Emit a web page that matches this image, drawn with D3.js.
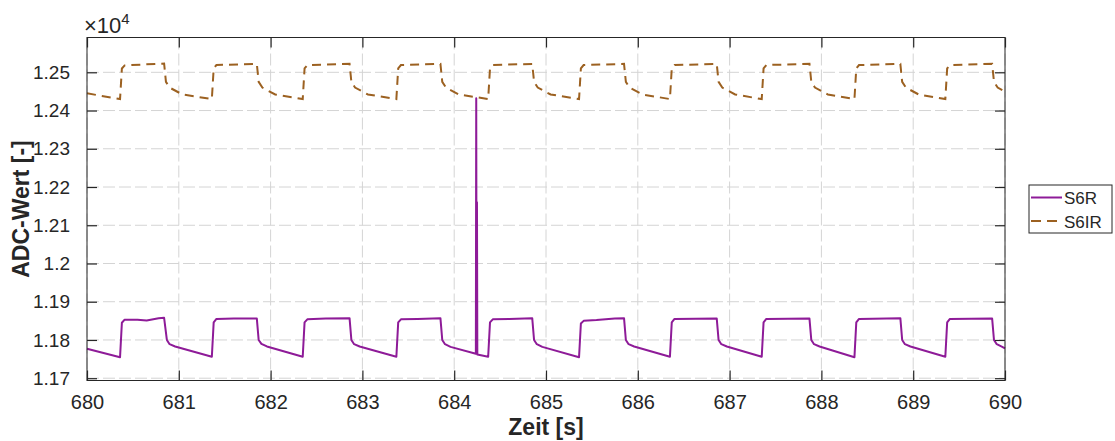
<!DOCTYPE html>
<html>
<head>
<meta charset="utf-8">
<script src="https://cdn.jsdelivr.net/npm/d3@7/dist/d3.min.js"></script>
<style>
  body { margin: 0; background: #fff; }
  svg { font-family: "Liberation Sans", Arial, Helvetica, sans-serif; }
</style>
</head>
<body>
<script>
// Ticks
var xTicks = [680, 681, 682, 683, 684, 685, 686, 687, 688, 689, 690];
var yTicks = [11700, 11800, 11900, 12000, 12100, 12200, 12300, 12400, 12500];
var yTickLabels = ["1.17", "1.18", "1.19", "1.2", "1.21", "1.22", "1.23", "1.24", "1.25"];
var seriesNames = ["S6R", "S6IR"];

// S6R [zeit, ADC]
var s6r = [
  [680.00,11777],[680.36,11755],
  [680.38,11845],[680.41,11853],[680.55,11853],[680.65,11851],[680.78,11857],[680.84,11858],
  [680.87,11800],[680.90,11789],[680.96,11783],[681.36,11756],
  [681.38,11846],[681.41,11855],[681.60,11856],[681.85,11856],
  [681.87,11800],[681.90,11790],[681.96,11783],[682.35,11756],
  [682.37,11846],[682.40,11854],[682.60,11856],[682.86,11857],
  [682.88,11800],[682.91,11789],[682.97,11783],[683.37,11756],
  [683.39,11846],[683.42,11854],[683.60,11855],[683.85,11857],
  [683.87,11800],[683.90,11789],[683.96,11782],[684.236,11764],
  [684.240,12432],[684.244,11770],[684.248,12160],[684.252,11762],[684.37,11756],
  [684.39,11846],[684.42,11854],[684.60,11855],[684.85,11857],
  [684.87,11800],[684.90,11789],[684.96,11782],[685.36,11755],
  [685.38,11843],[685.41,11850],[685.55,11852],[685.75,11856],[685.85,11857],
  [685.87,11800],[685.90,11789],[685.96,11783],[686.35,11756],
  [686.37,11846],[686.40,11855],[686.86,11856],
  [686.88,11800],[686.91,11789],[686.97,11783],[687.35,11756],
  [687.37,11846],[687.40,11855],[687.87,11856],
  [687.89,11800],[687.92,11789],[687.98,11783],[688.36,11755],
  [688.38,11846],[688.41,11855],[688.86,11857],
  [688.88,11800],[688.91,11789],[688.97,11783],[689.35,11756],
  [689.37,11846],[689.40,11855],[689.86,11856],
  [689.88,11800],[689.91,11789],[689.97,11782],[690.00,11778]
];

// S6IR [zeit, ADC]
var s6ir = [
  [680.00,12445],[680.36,12430],
  [680.38,12510],[680.41,12518],[680.84,12523],
  [680.86,12475],[680.90,12460],[681.04,12442],[681.36,12430],
  [681.38,12510],[681.41,12519],[681.85,12522],
  [681.87,12475],[681.91,12460],[682.05,12442],[682.35,12430],
  [682.37,12510],[682.40,12519],[682.86,12522],
  [682.88,12475],[682.92,12460],[683.06,12442],[683.37,12430],
  [683.39,12510],[683.42,12519],[683.85,12522],
  [683.87,12475],[683.91,12460],[684.05,12442],[684.37,12430],
  [684.39,12510],[684.42,12519],[684.85,12522],
  [684.87,12475],[684.91,12460],[685.05,12442],[685.36,12430],
  [685.38,12510],[685.41,12519],[685.85,12522],
  [685.87,12475],[685.91,12460],[686.05,12442],[686.35,12430],
  [686.37,12510],[686.40,12519],[686.86,12522],
  [686.88,12475],[686.92,12460],[687.06,12442],[687.35,12430],
  [687.37,12510],[687.40,12519],[687.87,12522],
  [687.89,12475],[687.93,12460],[688.07,12442],[688.36,12430],
  [688.38,12510],[688.41,12519],[688.86,12522],
  [688.88,12475],[688.92,12460],[689.06,12442],[689.35,12430],
  [689.37,12510],[689.40,12519],[689.86,12522],
  [689.88,12475],[689.92,12460],[690.00,12449]
];

var W = 1115, H = 441;
var box = {l: 87, r: 1005, t: 37.5, b: 380.5};
var axisCol = "#262626", gridCol = "#d4d4d4";
var colR = "#8e1b98", colIR = "#9c6121";

var x = d3.scaleLinear().domain([680, 690]).range([box.l, box.r]);
var y = d3.scaleLinear().domain([11694, 12591]).range([box.b, box.t]);

var svg = d3.select("body").append("svg").attr("width", W).attr("height", H);
svg.append("rect").attr("width", W).attr("height", H).attr("fill", "#fff");

// grid
var grid = svg.append("g");
grid.selectAll(".gx").data(xTicks).enter().append("line")
  .attr("x1", function(d){ return x(d); }).attr("x2", function(d){ return x(d); })
  .attr("y1", box.t).attr("y2", box.b)
  .attr("stroke", gridCol).attr("stroke-width", 1).attr("stroke-dasharray", "12,4");
grid.selectAll(".gy").data(yTicks).enter().append("line")
  .attr("x1", box.l).attr("x2", box.r)
  .attr("y1", function(d){ return y(d); }).attr("y2", function(d){ return y(d); })
  .attr("stroke", gridCol).attr("stroke-width", 1).attr("stroke-dasharray", "12,4");

// lines
var line = d3.line().x(function(d){ return x(d[0]); }).y(function(d){ return y(d[1]); });
var plot = svg.append("g");
plot.append("path").datum(s6r).attr("d", line)
  .attr("fill", "none").attr("stroke", colR).attr("stroke-width", 2).attr("stroke-linejoin", "round");
plot.append("path").datum(s6ir).attr("d", line)
  .attr("fill", "none").attr("stroke", colIR).attr("stroke-width", 2)
  .attr("stroke-dasharray", "9,6");

// axes (inside ticks on all sides)
var tl = 10;
svg.append("g").attr("class", "xa").attr("transform", "translate(0," + box.b + ")")
  .call(d3.axisBottom(x).tickValues(xTicks).tickSizeInner(-tl).tickSizeOuter(0).tickPadding(14).tickFormat(d3.format("d")));
svg.append("g").attr("transform", "translate(0," + box.t + ")")
  .call(d3.axisTop(x).tickValues(xTicks).tickSizeInner(-tl).tickSizeOuter(0).tickFormat(""));
svg.append("g").attr("transform", "translate(" + box.l + ",0)")
  .call(d3.axisLeft(y).tickValues(yTicks).tickSizeInner(-tl).tickSizeOuter(0).tickPadding(17)
    .tickFormat(function(d, i){ return yTickLabels[i]; }));
svg.append("g").attr("transform", "translate(" + box.r + ",0)")
  .call(d3.axisRight(y).tickValues(yTicks).tickSizeInner(-tl).tickSizeOuter(0).tickFormat(""));

svg.selectAll(".domain").remove();
svg.selectAll(".tick line").attr("stroke", axisCol).attr("stroke-width", 1.2);
svg.selectAll(".tick text").attr("fill", axisCol).style("font-size", "19px")
  .style("font-family", "'Liberation Sans', Arial, sans-serif");
svg.selectAll(".xa .tick text").style("font-size", "20px");

svg.append("rect").attr("x", box.l).attr("y", box.t)
  .attr("width", box.r - box.l).attr("height", box.b - box.t)
  .attr("fill", "none").attr("stroke", axisCol).attr("stroke-width", 1);

// exponent
var ex = svg.append("text").attr("x", box.l - 3).attr("y", 33).attr("fill", axisCol)
  .style("font-size", "22px");
ex.append("tspan").text("\u00d710");
ex.append("tspan").attr("dy", -9).style("font-size", "15px").text("4");

// axis labels
svg.append("text").attr("x", (box.l + box.r) / 2).attr("y", 435).attr("text-anchor", "middle")
  .attr("fill", axisCol).style("font-size", "23px").style("font-weight", "bold").text("Zeit [s]");
svg.append("text").attr("transform", "translate(29," + ((box.t + box.b) / 2) + ") rotate(-90)")
  .attr("text-anchor", "middle").attr("fill", axisCol)
  .style("font-size", "23px").style("font-weight", "bold").text("ADC-Wert [-]");

// legend
var lg = svg.append("g");
lg.append("rect").attr("x", 1029).attr("y", 185).attr("width", 83).attr("height", 48)
  .attr("fill", "#fff").attr("stroke", axisCol).attr("stroke-width", 1);
var items = lg.selectAll(".it").data(seriesNames).enter().append("g")
  .attr("transform", function(d, i){ return "translate(0," + (197.5 + i * 23.5) + ")"; });
items.append("line").attr("x1", 1031).attr("x2", 1062).attr("y1", 0).attr("y2", 0)
  .attr("stroke", function(d, i){ return i ? colIR : colR; }).attr("stroke-width", 2)
  .attr("stroke-dasharray", function(d, i){ return i ? "10,6" : null; });
items.append("text").attr("x", 1064).attr("y", 6.5).attr("fill", axisCol)
  .style("font-size", "17px").text(function(d){ return d; });
</script>
</body>
</html>
